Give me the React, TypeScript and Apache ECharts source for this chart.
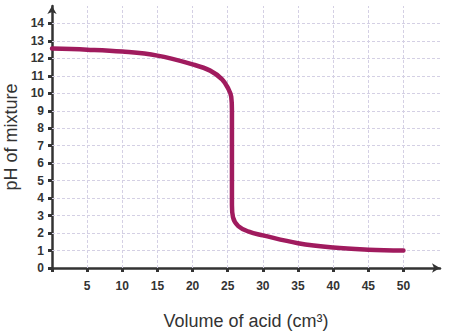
import React, { useEffect, useRef } from "react";
import * as echarts from "echarts";

const volumes = [0, 5, 10, 15, 20, 22.5, 24.2, 25.1, 25.5, 25.6, 25.6, 25.75, 26.5, 28, 30, 35, 40, 45, 50];
const phValues = [12.56, 12.5, 12.39, 12.16, 11.66, 11.3, 10.8, 10.25, 9.8, 9.0, 3.6, 2.9, 2.4, 2.08, 1.87, 1.42, 1.17, 1.05, 1.0];
const xTickLabels = [5, 10, 15, 20, 25, 30, 35, 40, 45, 50];
const xTicks = [0, 5, 10, 15, 20, 25, 30, 35, 40, 45, 50];
const yTicks = [0, 1, 2, 3, 4, 5, 6, 7, 8, 9, 10, 11, 12, 13, 14];
const xGrid = [5, 10, 15, 20, 25, 30, 35, 40, 45, 50];
const yGrid = [1, 2, 3, 4, 5, 6, 7, 8, 9, 10, 11, 12, 13, 14];

export default function App() {
  const ref = useRef<HTMLDivElement>(null);
  useEffect(() => {
    if (!ref.current) return;
    const chart = echarts.init(ref.current, null, { renderer: "svg" });
    const axisColor = "#333";
    const gridStyle = { color: "#d4d0e4", type: [3, 2] as any, width: 1 };
    chart.setOption({
      animation: false,
      backgroundColor: "#fff",
      textStyle: { fontFamily: "Liberation Sans, Arial, sans-serif" },
      grid: { left: 52, right: 24, top: 6, bottom: 68, containLabel: false, outerBoundsMode: "none" },
      xAxis: {
        type: "value",
        min: 0,
        max: 55.2,
        interval: 5,
        name: "Volume of acid (cm³)",
        nameLocation: "middle",
        nameGap: 44,
        nameTextStyle: { fontSize: 18, color: "#333", fontFamily: "Liberation Sans, Arial, sans-serif" },
        axisLine: {
          show: true,
          symbol: ["none", "arrow"],
          symbolSize: [7, 8],
          lineStyle: { color: axisColor, width: 2.5 },
        },
        axisTick: {
          show: true,
          customValues: xTicks,
          length: 4,
          inside: false,
          lineStyle: { color: axisColor, width: 3 },
        },
        axisLabel: {
          customValues: xTickLabels,
          margin: 12,
          fontSize: 12,
          fontWeight: "bold",
          color: "#333",
          formatter: (v: number) => (xTickLabels.indexOf(v) >= 0 ? String(v) : ""),
        },
        splitLine: { show: false },
      },
      yAxis: {
        type: "value",
        min: 0,
        max: 15,
        interval: 1,
        name: "pH of mixture",
        nameLocation: "middle",
        nameGap: 31,
        nameTextStyle: { fontSize: 18, color: "#333", fontFamily: "Liberation Sans, Arial, sans-serif" },
        axisLine: {
          show: true,
          symbol: ["none", "arrow"],
          symbolSize: [7, 8],
          lineStyle: { color: axisColor, width: 2.5 },
        },
        axisTick: {
          show: true,
          customValues: yTicks,
          length: 4,
          lineStyle: { color: axisColor, width: 3 },
        },
        axisLabel: {
          customValues: yTicks,
          margin: 8,
          fontSize: 12,
          fontWeight: "bold",
          color: "#333",
          formatter: (v: number) => (yTicks.indexOf(v) >= 0 ? String(v) : ""),
        },
        splitLine: { show: false },
      },
      series: [
        {
          type: "line",
          data: [],
          z: 1,
          silent: true,
          markLine: {
            silent: true,
            z: 1,
            symbol: "none",
            label: { show: false },
            lineStyle: gridStyle,
            emphasis: { disabled: true },
            data: [
              ...xGrid.map((v) => ({ xAxis: v })),
              ...yGrid.map((v) => ({ yAxis: v })),
            ],
          },
        },
        {
          type: "line",
          z: 10,
          data: volumes.map((v, i) => [v, phValues[i]]),
          showSymbol: false,
          smooth: 0.4,
          lineStyle: { color: "#a01b5e", width: 4.5, cap: "round", join: "round" },
          itemStyle: { color: "#a01b5e" },
        },
      ],
    });
    return () => chart.dispose();
  }, []);
  return <div ref={ref} style={{ width: 464, height: 336, position: "absolute", left: 0, top: 0 }} />;
}
